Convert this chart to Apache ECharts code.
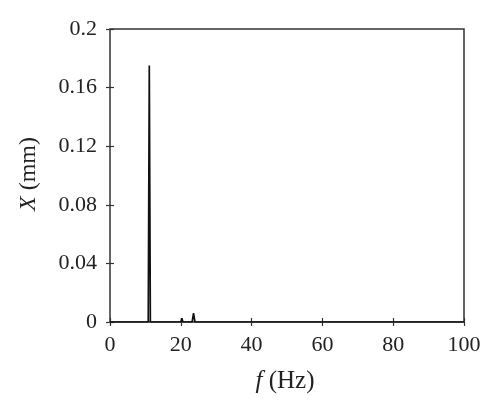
<!DOCTYPE html>
<html>
<head>
<meta charset="utf-8">
<script src="https://cdn.jsdelivr.net/npm/echarts@6/dist/echarts.min.js"></script>
<style>html,body{margin:0;padding:0;background:#fff}#c{width:500px;height:414px}</style>
</head>
<body>
<div id="c"></div>
<script>
var freqs = [0, 10.8, 11.1, 11.4, 16.9, 17.2, 17.5, 20.0, 20.3, 20.6, 23.2, 23.6, 24.0, 29.7, 30.0, 30.3, 100];
var amps  = [0, 0, 0.175, 0, 0, 0.001, 0, 0, 0.0025, 0, 0, 0.006, 0, 0, 0.001, 0, 0];
var xTicks = [0, 20, 40, 60, 80, 100];
var yTicks = ['0', '0.04', '0.08', '0.12', '0.16', '0.2'];

var FONT = 'Liberation Serif';
var chart = echarts.init(document.getElementById('c'), null, {renderer: 'canvas'});
var data = freqs.map(function (f, i) { return [f, amps[i]]; });
var lab = {fontFamily: FONT, fontSize: 22, color: '#222'};
chart.setOption({
  animation: false,
  grid: {left: 110, right: 36, top: 29, bottom: 92, show: true, borderColor: '#333', borderWidth: 1.5, backgroundColor: 'transparent'},
  xAxis: [{
    type: 'value', min: 0, max: 100, interval: 20,
    axisLine: {show: false},
    axisTick: {show: true, inside: true, length: 4, lineStyle: {color: '#333', width: 1.2}},
    splitLine: {show: false},
    axisLabel: Object.assign({margin: 12, formatter: function (v) { return xTicks.indexOf(v) >= 0 ? String(v) : ''; }}, lab)
  }, {
    type: 'value', position: 'top', min: 0, max: 100, interval: 20,
    axisLine: {show: false}, axisLabel: {show: false}, splitLine: {show: false},
    axisTick: {show: true, inside: true, length: 4, lineStyle: {color: '#333', width: 1.2}}
  }],
  yAxis: [{
    type: 'value', min: 0, max: 0.2, interval: 0.04,
    axisLine: {show: false},
    axisTick: {show: true, inside: true, length: 4, lineStyle: {color: '#333', width: 1.2}},
    splitLine: {show: false},
    axisLabel: Object.assign({margin: 13, formatter: function (v) { return yTicks[Math.round(v / 0.04)]; }}, lab)
  }, {
    type: 'value', position: 'right', min: 0, max: 0.2, interval: 0.04,
    axisLine: {show: false}, axisLabel: {show: false}, splitLine: {show: false},
    axisTick: {show: true, inside: true, length: 4, lineStyle: {color: '#333', width: 1.2}}
  }],
  series: [{
    type: 'line', data: data, showSymbol: false, symbol: 'none',
    lineStyle: {color: '#111', width: 1.7}
  }],
  graphic: [{
    type: 'text', x: 29, y: 174, rotation: Math.PI / 2,
    style: {
      text: '{i|X} (mm)',
      textAlign: 'center', textVerticalAlign: 'middle',
      fontFamily: FONT, fontSize: 24, fill: '#222',
      rich: {i: {fontFamily: FONT, fontSize: 24, fontStyle: 'italic', fill: '#222'}}
    }
  }, {
    type: 'text', x: 285, y: 381,
    style: {
      text: '{i|f} (Hz)',
      textAlign: 'center', textVerticalAlign: 'middle',
      fontFamily: FONT, fontSize: 25, fill: '#222',
      rich: {i: {fontFamily: FONT, fontSize: 25, fontStyle: 'italic', fill: '#222'}}
    }
  }]
});
</script>
</body>
</html>
